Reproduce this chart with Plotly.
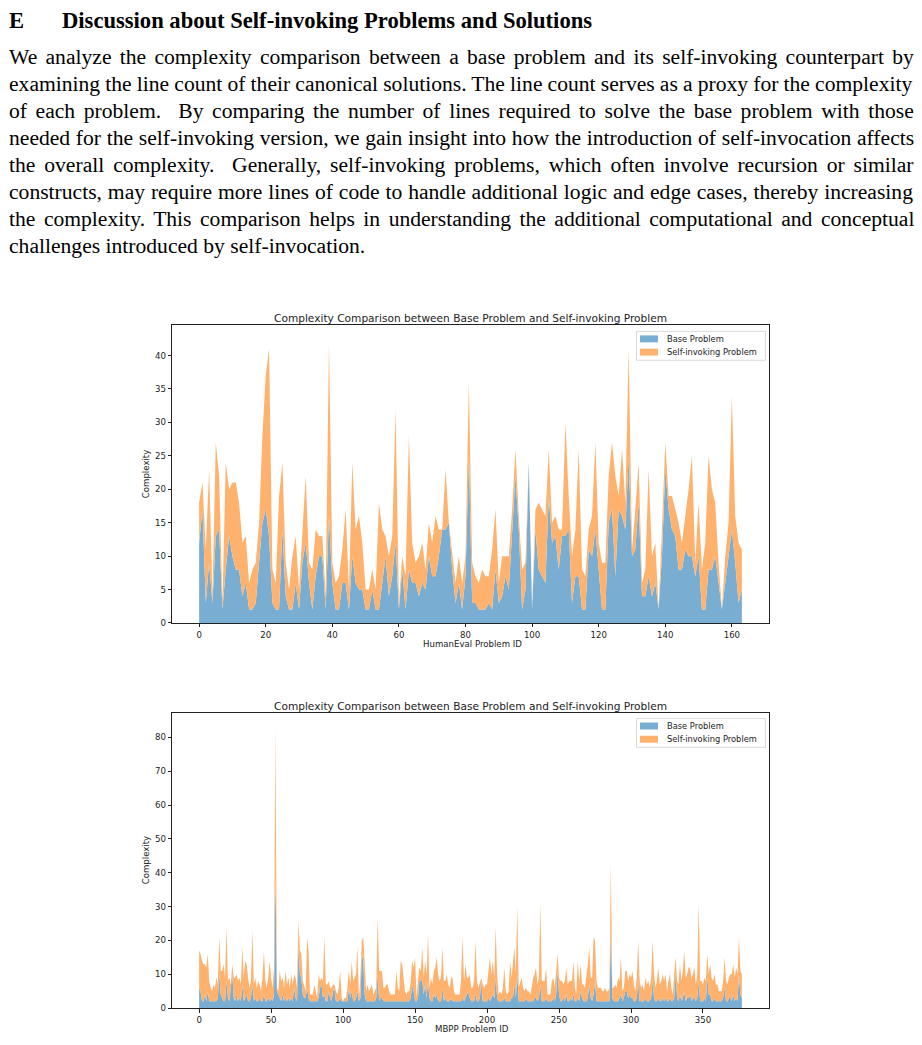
import plotly.graph_objects as go

# ---- page text ----
HEADING_LETTER = "E"
HEADING = "Discussion about Self-invoking Problems and Solutions"
PARAGRAPH = [
    "We analyze the complexity comparison between a base problem and its self-invoking counterpart by",
    "examining the line count of their canonical solutions. The line count serves as a proxy for the complexity",
    "of each problem.  By comparing the number of lines required to solve the base problem with those",
    "needed for the self-invoking version, we gain insight into how the introduction of self-invocation affects",
    "the overall complexity.  Generally, self-invoking problems, which often involve recursion or similar",
    "constructs, may require more lines of code to handle additional logic and edge cases, thereby increasing",
    "the complexity. This comparison helps in understanding the additional computational and conceptual",
    "challenges introduced by self-invocation.",
]

CHART_TITLE = "Complexity Comparison between Base Problem and Self-invoking Problem"
SERIES_NAMES = ["Base Problem", "Self-invoking Problem"]
Y_LABEL = "Complexity"
HE_X_LABEL = "HumanEval Problem ID"
MBPP_X_LABEL = "MBPP Problem ID"

HE_X_TICKS = [0, 20, 40, 60, 80, 100, 120, 140, 160]
HE_Y_TICKS = [0, 5, 10, 15, 20, 25, 30, 35, 40]
MBPP_X_TICKS = [0, 50, 100, 150, 200, 250, 300, 350]
MBPP_Y_TICKS = [0, 10, 20, 30, 40, 50, 60, 70, 80]

# ---- HumanEval (164 problems) ----
he_base = [
    12, 17, 3, 9, 3, 13, 14, 2, 8, 13, 10, 8, 8, 4, 6, 2, 2, 3, 9, 15,
    17, 13, 3, 2, 2, 14, 4, 2, 2, 6, 2, 9, 12, 6, 2, 7, 10, 10, 2, 16,
    6, 2, 2, 6, 6, 2, 10, 6, 5, 5, 2, 2, 5, 2, 2, 6, 10, 4, 7, 12,
    2, 8, 2, 8, 6, 6, 4, 6, 5, 10, 7, 7, 10, 14, 14, 15, 8, 3, 6, 2,
    7, 25, 3, 3, 2, 2, 2, 3, 2, 8, 3, 4, 7, 5, 13, 22, 14, 2, 5, 24,
    2, 14, 8, 7, 6, 19, 12, 13, 8, 13, 13, 14, 3, 7, 7, 2, 2, 11, 10, 14,
    8, 2, 2, 15, 17, 7, 17, 16, 14, 25, 10, 11, 18, 4, 4, 7, 4, 6, 2, 10,
    23, 17, 14, 13, 8, 8, 11, 10, 10, 7, 10, 2, 2, 8, 8, 10, 6, 2, 6, 10,
    14, 9, 3, 5,
]
he_self = [
    6, 4, 8, 14, 1, 14, 8, 1, 16, 7, 11, 13, 10, 8, 7, 4, 6, 6, 6, 13,
    20, 28, 5, 4, 17, 10, 5, 3, 8, 7, 3, 5, 10, 3, 6, 7, 3, 3, 2, 26,
    3, 4, 5, 5, 11, 3, 14, 8, 11, 7, 3, 3, 3, 3, 16, 8, 3, 6, 6, 20,
    1, 2, 5, 20, 6, 3, 6, 6, 3, 5, 5, 9, 4, 0, 9, 0, 2, 3, 4, 4,
    3, 11, 6, 4, 4, 6, 5, 4, 9, 9, 3, 6, 3, 5, 4, 4, 2, 6, 4, 0,
    0, 3, 10, 10, 10, 7, 3, 3, 6, 1, 17, 5, 7, 7, 19, 6, 5, 3, 6, 13,
    4, 7, 7, 7, 10, 15, 2, 10, 4, 16, 1, 6, 6, 2, 4, 16, 6, 6, 0, 4,
    4, 2, 5, 4, 7, 4, 5, 10, 15, 2, 8, 6, 10, 17, 12, 8, 3, 0, 4, 5,
    20, 7, 9, 6,
]

# ---- MBPP (378 problems) ----
mbpp_base = [
    6, 5, 2, 2, 4, 2, 5, 2, 2, 2,
    2, 2, 2, 3, 10, 4, 3, 2, 2, 8,
    3, 2, 6, 10, 3, 2, 4, 2, 3, 2,
    7, 2, 3, 4, 2, 2, 3, 7, 2, 3,
    2, 2, 3, 2, 2, 4, 2, 2, 3, 2,
    3, 2, 4, 40, 5, 4, 3, 2, 4, 2,
    3, 2, 3, 2, 3, 2, 6, 3, 2, 18,
    10, 9, 4, 3, 3, 6, 3, 2, 2, 2,
    2, 2, 2, 3, 6, 7, 3, 4, 2, 2,
    5, 3, 2, 5, 6, 2, 2, 2, 3, 2,
    2, 2, 2, 2, 6, 3, 5, 2, 2, 3,
    5, 2, 3, 16, 14, 4, 2, 2, 2, 2,
    2, 2, 2, 3, 10, 2, 3, 3, 2, 2,
    2, 2, 2, 2, 2, 2, 2, 2, 2, 2,
    2, 2, 2, 2, 2, 2, 2, 3, 7, 5,
    2, 2, 3, 8, 8, 8, 4, 7, 3, 8,
    3, 2, 2, 4, 3, 4, 2, 2, 2, 6,
    2, 3, 2, 2, 2, 3, 2, 2, 2, 2,
    2, 2, 2, 3, 2, 3, 4, 5, 3, 2,
    2, 2, 4, 2, 2, 3, 8, 2, 2, 2,
    2, 3, 2, 3, 4, 3, 9, 3, 2, 2,
    2, 2, 3, 2, 2, 2, 2, 3, 3, 7,
    3, 10, 2, 2, 2, 2, 2, 3, 2, 2,
    2, 2, 2, 3, 3, 2, 3, 7, 2, 2,
    2, 3, 2, 2, 2, 2, 3, 2, 4, 11,
    4, 2, 2, 3, 2, 4, 2, 2, 3, 2,
    4, 2, 2, 3, 2, 5, 3, 2, 2, 2,
    3, 7, 3, 2, 4, 8, 2, 2, 2, 2,
    2, 2, 2, 2, 2, 2, 24, 3, 2, 2,
    2, 2, 3, 4, 2, 3, 5, 5, 3, 4,
    3, 3, 2, 2, 3, 8, 2, 2, 2, 2,
    3, 2, 2, 2, 3, 8, 3, 2, 2, 3,
    2, 2, 3, 2, 3, 2, 2, 3, 2, 2,
    3, 10, 3, 2, 4, 2, 3, 5, 2, 3,
    3, 4, 2, 3, 3, 2, 3, 8, 2, 2,
    2, 3, 2, 9, 4, 4, 2, 2, 3, 2,
    2, 2, 2, 2, 3, 6, 2, 2, 3, 3,
    2, 4, 2, 3, 2, 10, 4, 3,
]
mbpp_self = [
    11, 11, 12, 11, 9, 10, 11, 6, 4, 3,
    5, 4, 7, 4, 11, 7, 8, 11, 7, 16,
    5, 7, 1, 3, 6, 7, 6, 6, 6, 5,
    11, 7, 11, 9, 7, 4, 5, 16, 5, 6,
    4, 6, 4, 3, 7, 13, 6, 4, 6, 12,
    6, 4, 8, 43, 1, 1, 8, 6, 5, 4,
    8, 5, 6, 4, 7, 5, 4, 6, 4, 8,
    7, 7, 4, 3, 2, 15, 14, 2, 2, 2,
    5, 3, 1, 7, 2, 2, 5, 17, 5, 5,
    3, 3, 4, 2, 1, 3, 2, 4, 8, 1,
    0, 1, 1, 4, 5, 4, 9, 6, 7, 7,
    13, 1, 6, 4, 7, 10, 3, 5, 3, 4,
    5, 2, 3, 3, 17, 9, 8, 8, 4, 4,
    5, 5, 3, 2, 2, 2, 2, 9, 4, 3,
    12, 11, 7, 3, 2, 3, 3, 5, 7, 7,
    13, 1, 5, 4, 3, 10, 5, 7, 7, 14,
    3, 7, 5, 7, 9, 11, 8, 6, 7, 12,
    6, 5, 8, 5, 4, 6, 7, 3, 2, 2,
    2, 2, 7, 18, 6, 10, 5, 4, 7, 4,
    4, 6, 16, 6, 4, 5, 1, 5, 4, 5,
    5, 8, 13, 7, 10, 6, 15, 7, 2, 3,
    2, 4, 9, 3, 2, 3, 12, 6, 12, 11,
    7, 20, 4, 6, 7, 4, 3, 3, 3, 3,
    2, 4, 7, 7, 9, 5, 6, 24, 6, 6,
    6, 9, 2, 2, 2, 6, 6, 4, 7, 5,
    5, 6, 6, 4, 6, 8, 5, 6, 5, 6,
    10, 4, 2, 11, 6, 8, 4, 5, 4, 7,
    10, 11, 6, 7, 17, 12, 6, 4, 4, 4,
    3, 3, 4, 3, 3, 4, 19, 3, 4, 5,
    4, 7, 5, 11, 3, 3, 6, 6, 5, 6,
    6, 8, 5, 3, 6, 12, 6, 4, 5, 3,
    6, 5, 6, 4, 6, 12, 7, 4, 6, 9,
    5, 6, 7, 6, 7, 3, 6, 7, 4, 2,
    7, 5, 5, 5, 9, 6, 8, 12, 7, 7,
    9, 8, 7, 7, 9, 5, 7, 23, 6, 6,
    5, 6, 6, 7, 6, 9, 7, 6, 7, 5,
    5, 3, 3, 3, 5, 9, 6, 5, 6, 7,
    8, 9, 7, 9, 8, 11, 7, 7,
]

# the page body keeps an 8px margin, so the figure is drawn 8px smaller on each side
PAD = 8
W, H = 922 - PAD, 1045 - 2 * PAD
BLUE = "#79add2"
ORANGE = "#ffb26e"
INK = "#222"
AXIS_FONT = dict(family="DejaVu Sans", size=8.6, color=INK)
LEGEND_FONT = dict(family="DejaVu Sans", size=8.3, color=INK)
# extra space per word gap (px) so every paragraph line but the last is justified
WORD_SPACING = [2.9, -0.25, 3.2, 0.3, 3.5, 0.5, 3.1, 0]


def px_x(x: float) -> float:
    """Page pixel x -> paper coordinate."""
    return (x - PAD) / W


def px_y(y: float) -> float:
    """Page pixel y -> paper coordinate."""
    return 1 - (y - PAD) / H


def add_stack(fig: go.Figure, ids, base, extra, xa: str, ya: str, group: str):
    """Stacked area: base problem below, self-invoking on top."""
    for name, vals, color in zip(SERIES_NAMES, [base, extra], [BLUE, ORANGE]):
        fig.add_trace(go.Scatter(
            x=ids, y=vals, name=name, mode="lines", stackgroup=group,
            line=dict(width=0, color=color), fillcolor=color,
            xaxis=xa, yaxis=ya, hoverinfo="skip", showlegend=False,
        ))


def axis_style(domain, rng, ticks, anchor):
    return dict(
        domain=domain, range=rng, tickvals=ticks, ticks="outside", ticklen=3.5,
        tickwidth=0.8, tickcolor=INK, showline=True, mirror=True,
        linecolor=INK, linewidth=0.8, showgrid=False, zeroline=False,
        tickfont=AXIS_FONT, anchor=anchor,
    )


fig = go.Figure()
add_stack(fig, list(range(len(he_base))), he_base, he_self, "x", "y", "he")
add_stack(fig, list(range(len(mbpp_base))), mbpp_base, mbpp_self, "x2", "y2", "mbpp")

x_dom = [px_x(172), px_x(769)]
fig.update_layout(
    width=W, height=H, margin=dict(l=0, r=0, t=0, b=0),
    paper_bgcolor="white", plot_bgcolor="white", showlegend=False,
    xaxis=axis_style(x_dom, [-8.15, 171.15], HE_X_TICKS, "y"),
    yaxis=axis_style([px_y(626), px_y(327)], [0, 44.5], HE_Y_TICKS, "x"),
    xaxis2=axis_style(x_dom, [-18.85, 395.85], MBPP_X_TICKS, "y2"),
    yaxis2=axis_style([px_y(1013), px_y(716)], [0, 87.35], MBPP_Y_TICKS, "x2"),
)

annotations = []
shapes = []
serif = dict(family="Liberation Serif", color="black")
annotations.append(dict(x=px_x(8), y=px_y(21), text=f"<b>{HEADING_LETTER}</b>", xanchor="left",
                        yanchor="middle", font=dict(size=22.6, **serif), borderpad=0))
annotations.append(dict(x=px_x(61), y=px_y(21), text=f"<b>{HEADING}</b>", xanchor="left",
                        yanchor="middle", font=dict(size=22.6, **serif), borderpad=0))
for i, (line, ws) in enumerate(zip(PARAGRAPH, WORD_SPACING)):
    annotations.append(dict(x=px_x(7), y=px_y(57 + i * 27.1),
                            text=f'<span style="word-spacing:{ws}px">{line}</span>',
                            xanchor="left", yanchor="middle", font=dict(size=21.6, **serif)))

# chart titles, axis labels and legends (legend drawn by hand to match the compact box)
for top, bottom, xlabel in [(327, 626, HE_X_LABEL), (716, 1013, MBPP_X_LABEL)]:
    annotations.append(dict(x=px_x(470.5), y=px_y(top - 7), text=CHART_TITLE, xanchor="center",
                            yanchor="middle", font=dict(family="DejaVu Sans", size=10.6, color=INK)))
    annotations.append(dict(x=px_x(472), y=px_y(bottom + 21), text=xlabel, xanchor="center",
                            yanchor="middle", font=AXIS_FONT))
    annotations.append(dict(x=px_x(146), y=px_y((top + bottom) / 2), text=Y_LABEL, textangle=-90,
                            xanchor="center", yanchor="middle", font=AXIS_FONT))

    lt = top + 6
    shapes.append(dict(type="rect", x0=px_x(636.5), x1=px_x(765.5), y0=px_y(lt), y1=px_y(lt + 29),
                       line=dict(color="#d0d0d0", width=0.8), fillcolor="rgba(255,255,255,0.85)"))
    for k, (name, color) in enumerate(zip(SERIES_NAMES, [BLUE, ORANGE])):
        cy = lt + 7.5 + k * 13.3
        shapes.append(dict(type="rect", x0=px_x(640), x1=px_x(658), y0=px_y(cy - 3.5), y1=px_y(cy + 3.5),
                           line=dict(width=0), fillcolor=color))
        annotations.append(dict(x=px_x(665), y=px_y(cy), text=name, xanchor="left",
                                yanchor="middle", font=LEGEND_FONT))

for a in annotations:
    a.update(xref="paper", yref="paper", showarrow=False)
for s in shapes:
    s.update(xref="paper", yref="paper")
fig.update_layout(annotations=annotations, shapes=shapes)

fig.write_html("out.html")
